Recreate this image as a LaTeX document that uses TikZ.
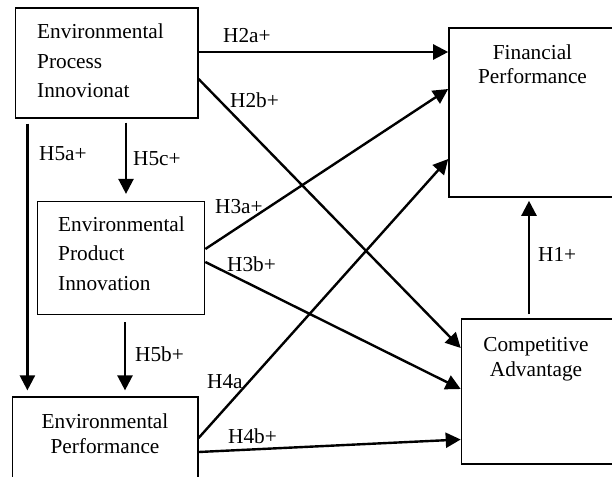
\documentclass[tikz,border=0pt]{standalone}
\usepackage{fontspec}
\setmainfont{Liberation Serif}
\usetikzlibrary{arrows.meta}
\tikzset{
  box/.style={draw, line width=1.2pt, rectangle, inner sep=0pt},
  bigbox/.style={draw, line width=1.6pt, rectangle, inner sep=0pt},
  txt/.style={inner sep=0pt, font=\fontsize{21.3pt}{25pt}\selectfont},
  lbl/.style={inner sep=0pt, anchor=base west, font=\fontsize{21.3pt}{25pt}\selectfont},
  arr/.style={line width=2.4pt, -{Triangle[length=15pt,width=15pt]}}
}
\begin{document}
\begin{tikzpicture}[x=1pt,y=-1pt]
\useasboundingbox (0,0) rectangle (612,476);
\fill[white] (0,0) rectangle (612,476);
\begin{scope}
\clip (0,0) rectangle (612,476);
% boxes
\node[box, minimum width=182.5pt, minimum height=110pt] (epi) at (106.75,63) {};
\node[box, minimum width=167pt, minimum height=113pt] (epd) at (121.25,258) {};
\node[box, minimum width=185.5pt, minimum height=93pt] (eperf) at (105.25,443.5) {};
\node[bigbox, minimum width=167pt, minimum height=169pt] (fp) at (532.5,112.5) {};
\node[bigbox, minimum width=154.5pt, minimum height=145pt] (ca) at (538.75,391.5) {};

% box texts
\node[txt, anchor=base west] (t1) at (37,39) {Environmental};
\node[txt, anchor=base west] (t2) at (37,68.5) {Process};
\node[txt, anchor=base west] (t3) at (37,98) {Innovionat};
\node[txt, anchor=base west] (t4) at (58,231.5) {Environmental};
\node[txt, anchor=base west] (t5) at (58,260.7) {Product};
\node[txt, anchor=base west] (t6) at (58,290.7) {Innovation};
\node[txt, anchor=base] (t7) at (105,428) {Environmental};
\node[txt, anchor=base] (t8) at (105,453) {Performance};
\node[txt, anchor=base] (t9) at (532.5,60) {Financial};
\node[txt, anchor=base] (t10) at (532.5,83.5) {Performance};
\node[txt, anchor=base] (t11) at (536,351.5) {Competitive};
\node[txt, anchor=base] (t12) at (536,376.5) {Advantage};

% connectors
\draw[arr] ([yshift=11pt]epi.east) -- ([yshift=60.5pt]fp.west);
\draw[arr] ([yshift=-16pt]epi.east) -- ([yshift=43.5pt]ca.west);
\draw[arr] ([xshift=12.5pt,yshift=-5pt]epi.south west) -- ([xshift=15.5pt,yshift=6pt]eperf.north west);
\draw[arr] ([xshift=19.25pt,yshift=-4pt]epi.south) -- ([xshift=4.75pt,yshift=7pt]epd.north);
\draw[arr] ([xshift=3.75pt,yshift=-7pt]epd.south) -- ([xshift=19.75pt,yshift=6pt]eperf.north);
\draw[arr] ([yshift=9pt]epd.east) -- ([yshift=23.5pt]fp.west);
\draw[arr] ([yshift=-4pt]epd.east) -- ([yshift=2.5pt]ca.west);
\draw[arr] ([yshift=5.5pt]eperf.east) -- ([yshift=-46.5pt]fp.west);
\draw[arr] ([yshift=-8.5pt]eperf.east) -- ([yshift=-48pt]ca.west);
\draw[arr] ([xshift=-9.75pt,yshift=4pt]ca.north) -- ([xshift=-3.5pt,yshift=-3pt]fp.south);

% labels
\node[lbl] (l1) at (223,43) {H2a+};
\node[lbl] (l2) at (230,107) {H2b+};
\node[lbl] (l3) at (39,160) {H5a+};
\node[lbl] (l4) at (133,165) {H5c+};
\node[lbl] (l5) at (215,213) {H3a+};
\node[lbl] (l6) at (227,271) {H3b+};
\node[lbl] (l7) at (135,361) {H5b+};
\node[lbl] (l8) at (207,388) {H4a};
\node[lbl] (l9) at (228,443) {H4b+};
\node[lbl] (l10) at (538,261) {H1+};
\end{scope}
\end{tikzpicture}
\end{document}
